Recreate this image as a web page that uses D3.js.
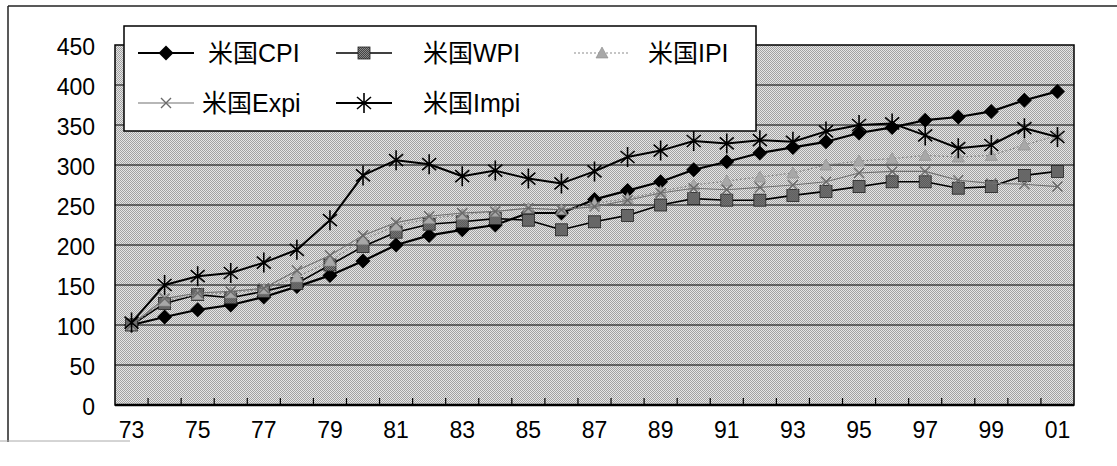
<!DOCTYPE html>
<html>
<head>
<meta charset="utf-8">
<script src="https://cdn.jsdelivr.net/npm/d3@7"></script>
<style>
  html, body { margin: 0; padding: 0; background: #fff; }
  svg { display: block; }
  text { font-family: "Liberation Sans", Arial, "Noto Sans CJK JP", sans-serif; fill: #000; }
</style>
</head>
<body>
<svg id="chart" width="1117" height="466"></svg>
<script>
// Price indices for the United States, 1973 = 100
const years = ["73","74","75","76","77","78","79","80","81","82","83","84","85","86","87",
               "88","89","90","91","92","93","94","95","96","97","98","99","00","01"];
const cpi  = [100,110,119,125,135,148,162,180,200,212,219,225,240,240,257,268,279,294,304,315,322,329,340,347,356,360,367,381,392];
const wpi  = [100,127,138,134,142,152,175,198,216,226,229,233,231,219,229,237,250,258,256,256,262,267,273,279,279,271,273,287,292];
const ipi  = [100,130,138,140,145,160,180,207,224,233,238,242,246,244,252,258,267,275,280,285,290,300,305,308,312,310,312,325,337];
const expi = [100,133,140,142,146,168,187,212,228,236,240,242,246,244,248,256,265,271,269,272,275,279,290,292,292,281,277,276,273];
const impi = [103,150,161,165,178,194,231,287,306,301,286,293,283,277,292,310,318,330,327,331,329,342,350,352,337,321,325,346,335];
const yTicks = [0,50,100,150,200,250,300,350,400,450];
const xLabels = years.filter((d, i) => i % 2 === 0);

const seriesNames = ["米国CPI","米国WPI","米国IPI","米国Expi","米国Impi"];

const svg = d3.select("#chart");

// halftone fill used by the plot area
const defs = svg.append("defs");
const pat = defs.append("pattern").attr("id", "halftone")
  .attr("width", 2).attr("height", 2).attr("patternUnits", "userSpaceOnUse");
pat.append("rect").attr("width", 2).attr("height", 2).attr("fill", "#e6e6e6");
pat.append("rect").attr("x", 0).attr("y", 0).attr("width", 1).attr("height", 1).attr("fill", "#a2a2a2");
pat.append("rect").attr("x", 1).attr("y", 1).attr("width", 1).attr("height", 1).attr("fill", "#a2a2a2");

const pat2 = defs.append("pattern").attr("id", "sqfill")
  .attr("width", 2).attr("height", 2).attr("patternUnits", "userSpaceOnUse");
pat2.append("rect").attr("width", 2).attr("height", 2).attr("fill", "#444");
pat2.append("rect").attr("x", 1).attr("y", 0).attr("width", 1).attr("height", 1).attr("fill", "#8a8a8a");
pat2.append("rect").attr("x", 0).attr("y", 1).attr("width", 1).attr("height", 1).attr("fill", "#8a8a8a");

const plot = { left: 115, right: 1074, top: 45, bottom: 405 };

const x = d3.scaleBand().domain(years).range([plot.left, plot.right]).padding(0);
const y = d3.scaleLinear().domain([0, 450]).range([plot.bottom, plot.top]);
const cx = d => x(d) + x.bandwidth() / 2;

// outer frame (left and top edges)
svg.append("line").attr("x1", 8).attr("x2", 1117).attr("y1", 6).attr("y2", 6)
  .attr("stroke", "#222").attr("stroke-width", 1.5);
svg.append("line").attr("x1", 8).attr("x2", 8).attr("y1", 6).attr("y2", 442)
  .attr("stroke", "#222").attr("stroke-width", 1.5);
svg.append("line").attr("x1", 0).attr("x2", 130).attr("y1", 441).attr("y2", 441)
  .attr("stroke", "#aaa").attr("stroke-width", 1);

// plot area
svg.append("rect")
  .attr("x", plot.left).attr("y", plot.top)
  .attr("width", plot.right - plot.left).attr("height", plot.bottom - plot.top)
  .attr("fill", "url(#halftone)");

// horizontal gridlines
svg.append("g").selectAll("line").data(yTicks.filter(v => v > 0 && v < 450)).join("line")
  .attr("x1", plot.left).attr("x2", plot.right)
  .attr("y1", d => y(d)).attr("y2", d => y(d))
  .attr("stroke", "#000").attr("stroke-width", 1.2);

// plot border
svg.append("rect")
  .attr("x", plot.left).attr("y", plot.top)
  .attr("width", plot.right - plot.left).attr("height", plot.bottom - plot.top)
  .attr("fill", "none").attr("stroke", "#000").attr("stroke-width", 1.5);
svg.append("line").attr("x1", plot.left).attr("x2", plot.right)
  .attr("y1", plot.bottom).attr("y2", plot.bottom)
  .attr("stroke", "#000").attr("stroke-width", 2.5);

// category tick marks between years, pointing into the plot
svg.append("g").selectAll("line").data(years.slice(1)).join("line")
  .attr("x1", d => x(d)).attr("x2", d => x(d))
  .attr("y1", plot.bottom).attr("y2", plot.bottom - 7)
  .attr("stroke", "#000").attr("stroke-width", 1.2);

// y axis labels
const yAxis = d3.axisLeft(y).tickValues(yTicks).tickSize(0).tickPadding(20);
const gy = svg.append("g").attr("transform", `translate(${plot.left},0)`).call(yAxis);
gy.select(".domain").remove();
gy.selectAll("text").attr("font-size", 23).attr("dy", "0.42em")
  .style("font-family", '"Liberation Sans", Arial, sans-serif');

// x axis labels, every other year
const xAxis = d3.axisBottom(x).tickValues(xLabels).tickSize(0).tickPadding(17);
const gx = svg.append("g").attr("transform", `translate(0,${plot.bottom})`).call(xAxis);
gx.select(".domain").remove();
gx.selectAll("text").attr("font-size", 23).attr("dy", "0.71em")
  .style("font-family", '"Liberation Sans", Arial, sans-serif');

// marker shapes
function drawMarker(g, type) {
  if (type === "diamond") {
    g.append("path").attr("d", "M0,-7.5L7.5,0L0,7.5L-7.5,0Z").attr("fill", "#000");
  } else if (type === "square") {
    g.append("rect").attr("x", -6).attr("y", -6).attr("width", 12).attr("height", 12)
      .attr("fill", "url(#sqfill)").attr("stroke", "#222").attr("stroke-width", 0.8);
  } else if (type === "triangle") {
    g.append("path").attr("d", "M0,-6L6,5L-6,5Z").attr("fill", "#a8a8a8").attr("stroke", "#8a8a8a").attr("stroke-width", 0.6);
  } else if (type === "x") {
    g.append("path").attr("d", "M-5,-5L5,5M-5,5L5,-5").attr("stroke", "#6a6a6a").attr("stroke-width", 1.4).attr("fill", "none");
  } else if (type === "star") {
    g.append("path").attr("d", "M0,-10L0,10M-7,-6L7,6M-7,6L7,-6").attr("stroke", "#000").attr("stroke-width", 1.6).attr("fill", "none");
  }
}

const series = [
  { name: seriesNames[0], values: cpi,  marker: "diamond",  stroke: "#000",    width: 2.2, dash: null },
  { name: seriesNames[1], values: wpi,  marker: "square",   stroke: "#000",    width: 1.6, dash: null },
  { name: seriesNames[2], values: ipi,  marker: "triangle", stroke: "#8c8c8c", width: 1.2, dash: "2,2" },
  { name: seriesNames[3], values: expi, marker: "x",        stroke: "#707070", width: 1.1, dash: null },
  { name: seriesNames[4], values: impi, marker: "star",     stroke: "#000",    width: 2.0, dash: null }
];

const line = d3.line().x(d => cx(d.year)).y(d => y(d.value));

series.forEach(s => {
  const pts = years.map((yr, i) => ({ year: yr, value: s.values[i] }));
  const g = svg.append("g");
  g.append("path").datum(pts).attr("d", line)
    .attr("fill", "none").attr("stroke", s.stroke).attr("stroke-width", s.width)
    .attr("stroke-dasharray", s.dash).attr("stroke-linejoin", "round");
  g.selectAll("g.m").data(pts).join("g").attr("class", "m")
    .attr("transform", d => `translate(${cx(d.year)},${y(d.value)})`)
    .each(function () { drawMarker(d3.select(this), s.marker); });
});

// legend
const legend = svg.append("g");
legend.append("rect").attr("x", 124).attr("y", 26).attr("width", 632).attr("height", 105)
  .attr("fill", "#fff").attr("stroke", "#000").attr("stroke-width", 1.5);

const legendPos = [
  { lx: 138, ly: 53,  tx: 208 },
  { lx: 336, ly: 53,  tx: 423 },
  { lx: 574, ly: 53,  tx: 648 },
  { lx: 138, ly: 103, tx: 202 },
  { lx: 336, ly: 103, tx: 423 }
];

series.forEach((s, i) => {
  const p = legendPos[i];
  const g = legend.append("g");
  g.append("line").attr("x1", p.lx).attr("x2", p.lx + 56).attr("y1", p.ly).attr("y2", p.ly)
    .attr("stroke", s.stroke).attr("stroke-width", s.width).attr("stroke-dasharray", s.dash);
  const m = g.append("g").attr("transform", `translate(${p.lx + 28},${p.ly})`);
  drawMarker(m, s.marker);
  g.append("text").attr("x", p.tx).attr("y", p.ly + 9).attr("font-size", 25).text(s.name);
});
</script>
</body>
</html>
